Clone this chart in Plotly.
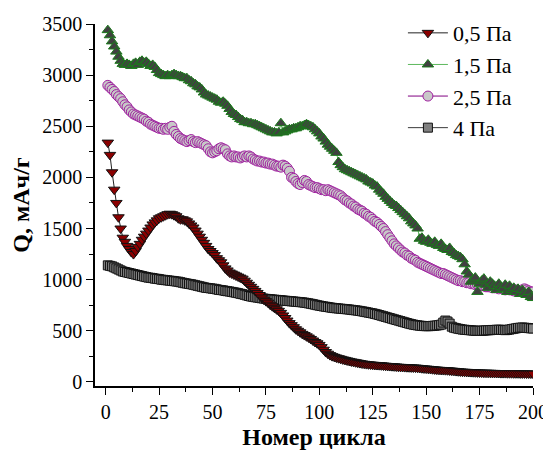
import plotly.graph_objects as go

cycles = list(range(1, 201))

q_05 = [2340, 2220, 2050, 1880, 1750, 1610, 1500, 1410, 1370, 1330,
        1300, 1270, 1250, 1280, 1320, 1350, 1390, 1420, 1450, 1480,
        1510, 1540, 1560, 1580, 1600, 1610, 1620, 1630, 1640, 1645,
        1640, 1630, 1620, 1600, 1590, 1590, 1580, 1570, 1550, 1530,
        1510, 1480, 1450, 1420, 1390, 1360, 1330, 1300, 1280, 1260,
        1240, 1210, 1190, 1170, 1140, 1110, 1090, 1070, 1060, 1050,
        1040, 1030, 1020, 1010, 990, 970, 950, 930, 910, 890,
        870, 850, 825, 805, 790, 775, 755, 740, 725, 710,
        695, 675, 650, 625, 600, 575, 555, 535, 515, 500,
        485, 470, 458, 446, 434, 420, 405, 390, 378, 362,
        340, 315, 292, 276, 262, 252, 245, 238, 232, 226,
        220, 215, 210, 205, 200, 196, 192, 188, 184, 180,
        177, 174, 172, 170, 168, 166, 165, 164, 162, 160,
        158, 156, 155, 154, 152, 150, 148, 147, 146, 145,
        144, 143, 142, 141, 140, 138, 136, 134, 132, 130,
        128, 126, 124, 122, 120, 118, 117, 116, 115, 114,
        112, 110, 108, 106, 104, 102, 100, 99, 98, 97,
        96, 95, 94, 93, 92, 91, 90, 90, 89, 89,
        88, 88, 87, 87, 86, 86, 86, 85, 85, 85,
        84, 84, 84, 83, 83, 83, 82, 82, 82, 81]

q_15 = [3440, 3390, 3330, 3280, 3230, 3180, 3140, 3110, 3100, 3110,
        3100, 3090, 3110, 3120, 3100, 3130, 3140, 3120, 3130, 3110,
        3090, 3100, 3080, 3050, 3020, 3010, 3000, 2990, 3000, 2990,
        3000, 3010, 3000, 2990, 2990, 2980, 2970, 2970, 2950, 2940,
        2920, 2910, 2890, 2880, 2860, 2830, 2810, 2800, 2790, 2780,
        2770, 2760, 2740, 2730, 2740, 2720, 2700, 2670, 2640, 2620,
        2610, 2590, 2570, 2560, 2540, 2540, 2530, 2530, 2520, 2520,
        2510, 2500, 2490, 2480, 2470, 2460, 2450, 2440, 2440, 2430,
        2440, 2530, 2440, 2450, 2460, 2470, 2470, 2480, 2480, 2490,
        2500, 2500, 2510, 2520, 2510, 2500, 2490, 2470, 2450, 2430,
        2400, 2380, 2350, 2320, 2300, 2280, 2260, 2240, 2150, 2120,
        2100, 2080, 2070, 2060, 2050, 2040, 2030, 2020, 2010, 2000,
        1990, 1980, 1960, 1950, 1940, 1920, 1910, 1880, 1860, 1840,
        1810, 1790, 1770, 1750, 1730, 1720, 1700, 1680, 1660, 1640,
        1620, 1600, 1570, 1550, 1530, 1500, 1400, 1410, 1380, 1370,
        1390, 1360, 1350, 1370, 1340, 1330, 1350, 1310, 1300, 1290,
        1310, 1270, 1260, 1240, 1230, 1220, 1200, 1150, 1080, 1050,
        980, 1000, 1020, 880, 960, 990, 1010, 950, 920, 980,
        960, 940, 900, 960, 930, 910, 950, 880, 940, 900,
        920, 880, 910, 860, 900, 870, 850, 880, 830, 820]

q_25 = [2900, 2880, 2860, 2840, 2810, 2790, 2770, 2740, 2710, 2690,
        2660, 2640, 2620, 2610, 2600, 2590, 2580, 2570, 2550, 2540,
        2520, 2510, 2500, 2490, 2480, 2480, 2470, 2480, 2470, 2490,
        2500, 2450, 2420, 2400, 2380, 2370, 2360, 2350, 2360, 2370,
        2350, 2340, 2350, 2340, 2330, 2320, 2310, 2280, 2250, 2240,
        2250, 2260, 2280, 2290, 2280, 2270, 2230, 2210, 2200, 2210,
        2200, 2200, 2190, 2200, 2210, 2200, 2210, 2200, 2180, 2170,
        2160, 2160, 2150, 2150, 2140, 2140, 2130, 2130, 2120, 2110,
        2110, 2100, 2120, 2110, 2090, 2060, 2000, 1990, 1960, 1940,
        1930, 1950, 1970, 1960, 1930, 1920, 1910, 1900, 1900, 1890,
        1880, 1880, 1870, 1880, 1870, 1860, 1850, 1840, 1830, 1820,
        1800, 1780, 1770, 1750, 1740, 1720, 1710, 1690, 1680, 1670,
        1650, 1640, 1620, 1610, 1590, 1570, 1560, 1540, 1520, 1500,
        1470, 1440, 1410, 1380, 1350, 1330, 1310, 1290, 1270, 1260,
        1240, 1230, 1210, 1200, 1190, 1170, 1160, 1150, 1140, 1130,
        1120, 1110, 1100, 1090, 1080, 1070, 1060, 1060, 1050, 1040,
        1030, 1020, 1010, 1000, 990, 990, 980, 980, 970, 970,
        960, 960, 950, 950, 940, 940, 940, 930, 930, 930,
        920, 920, 920, 910, 920, 910, 900, 910, 900, 900,
        890, 900, 890, 890, 900, 910, 900, 890, 880, 880]

q_4 = [1140, 1135, 1130, 1120, 1110, 1100, 1090, 1080, 1075, 1070,
       1065, 1060, 1055, 1050, 1045, 1040, 1035, 1030, 1025, 1020,
       1018, 1015, 1010, 1008, 1005, 1000, 998, 995, 993, 990,
       988, 985, 982, 980, 975, 970, 965, 962, 958, 955,
       950, 945, 940, 935, 930, 925, 920, 918, 915, 912,
       910, 905, 900, 898, 895, 890, 887, 884, 880, 876,
       872, 868, 862, 858, 852, 846, 840, 835, 832, 828,
       825, 822, 818, 815, 812, 810, 808, 806, 804, 802,
       800, 798, 796, 794, 792, 790, 788, 786, 784, 782,
       780, 778, 775, 772, 768, 764, 760, 755, 750, 746,
       742, 738, 735, 732, 728, 725, 722, 720, 718, 716,
       714, 712, 710, 708, 705, 702, 700, 697, 694, 690,
       686, 682, 678, 674, 670, 665, 660, 654, 648, 642,
       636, 630, 624, 618, 612, 606, 600, 594, 588, 582,
       576, 570, 565, 560, 556, 553, 550, 548, 546, 545,
       545, 546, 548, 550, 552, 555, 560, 580, 600, 590,
       570, 540, 530, 525, 520, 516, 512, 510, 508, 506,
       504, 502, 500, 500, 500, 500, 502, 504, 505, 506,
       508, 508, 510, 510, 510, 508, 506, 508, 512, 516,
       520, 524, 528, 530, 532, 530, 528, 526, 524, 522]

names = ["0,5 Па", "1,5 Па", "2,5 Па", "4 Па"]

FONT = "Liberation Serif"

fig = go.Figure()

# drawn back-to-front: 4 Pa, 2.5 Pa, 1.5 Pa, 0.5 Pa
fig.add_trace(go.Scatter(
    x=cycles, y=q_4, name=names[3], mode="lines+markers",
    line=dict(color="#3a3a3a", width=1),
    marker=dict(symbol="square", size=9, color="#808080",
                line=dict(color="#111111", width=1))))
fig.add_trace(go.Scatter(
    x=cycles, y=q_25, name=names[2], mode="lines+markers",
    line=dict(color="#800080", width=1),
    marker=dict(symbol="circle", size=10, color="#c8c8c8",
                line=dict(color="#a020a0", width=1))))
fig.add_trace(go.Scatter(
    x=cycles, y=q_15, name=names[1], mode="lines+markers",
    line=dict(color="#5cb85c", width=1),
    marker=dict(symbol="triangle-up", size=10, color="#404040",
                line=dict(color="#1a7a1a", width=1))))
fig.add_trace(go.Scatter(
    x=cycles, y=q_05, name=names[0], mode="lines+markers",
    line=dict(color="#222222", width=1),
    marker=dict(symbol="triangle-down", size=10, color="#8b0000",
                line=dict(color="#111111", width=1))))

axis_common = dict(
    showgrid=False, zeroline=False, showline=True, linecolor="black",
    linewidth=1.5, ticks="outside", ticklen=7, tickwidth=1.2,
    tickcolor="black", tickfont=dict(family=FONT, size=20, color="black"),
    mirror=False,
)

fig.update_xaxes(
    range=[-5, 200], tickmode="linear", tick0=0, dtick=25,
    minor=dict(ticks="outside", ticklen=4, tickwidth=1, tickcolor="black",
               dtick=12.5, tick0=0),
    title=dict(text="<b>Номер цикла</b>",
               font=dict(family=FONT, size=24, color="black"), standoff=6),
    **axis_common)
fig.update_yaxes(
    range=[-40, 3500], tickmode="linear", tick0=0, dtick=500,
    minor=dict(ticks="outside", ticklen=4, tickwidth=1, tickcolor="black",
               dtick=250, tick0=0),
    title=dict(text="<b>Q, мАч/г</b>",
               font=dict(family=FONT, size=24, color="black"), standoff=8),
    **axis_common)

# the page body adds an 8 px offset; figure size and margins compensate
fig.update_layout(
    width=543, height=442,
    margin=dict(l=87, r=18, t=16, b=64, autoexpand=False),
    paper_bgcolor="white", plot_bgcolor="white",
    font=dict(family=FONT, color="black"),
    legend=dict(
        traceorder="reversed", x=0.703, y=1.033, xanchor="left", yanchor="top",
        bgcolor="rgba(0,0,0,0)", borderwidth=0, itemwidth=40,
        font=dict(family=FONT, size=22, color="black"),
        tracegroupgap=0,
    ),
    showlegend=True,
)

fig.write_html("out.html")
